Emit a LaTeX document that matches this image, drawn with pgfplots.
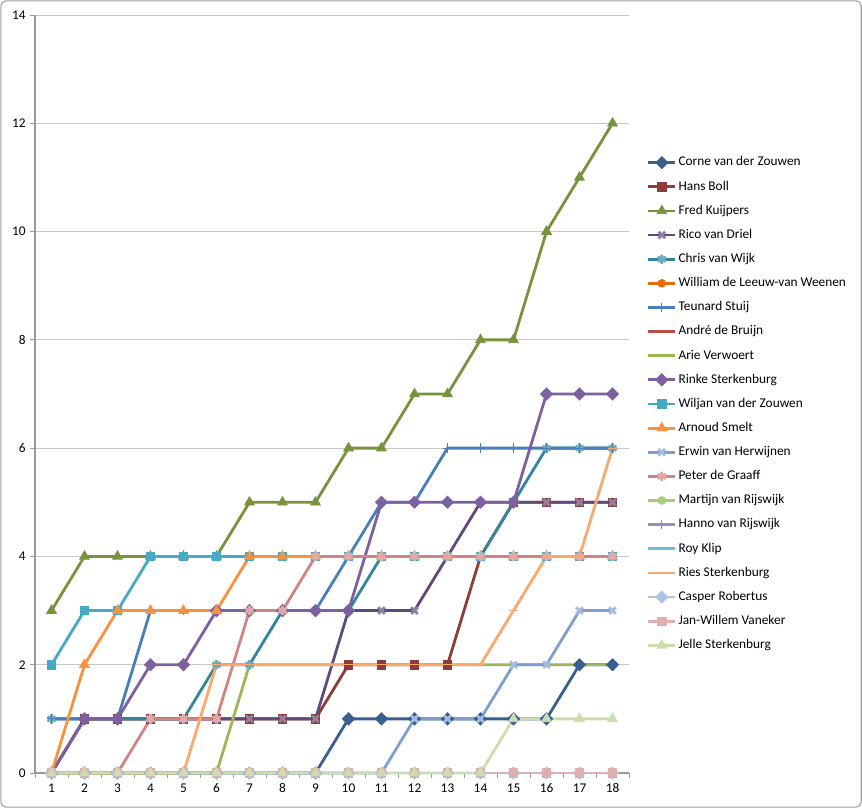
\documentclass[border=0pt]{standalone}
\usepackage{pgfplots}
\pgfplotsset{compat=1.18}
\usepackage{pgfplotstable}
\usepackage{fontspec}
\setmainfont{Carlito}
\definecolor{c1}{HTML}{3A5F8F}
\definecolor{c2}{HTML}{8E3B39}
\definecolor{c3}{HTML}{77933C}
\definecolor{c4}{HTML}{604A7B}
\definecolor{c5}{HTML}{31859C}
\definecolor{c6}{HTML}{E46C0A}
\definecolor{c7}{HTML}{4A7EBB}
\definecolor{c8}{HTML}{BE4B48}
\definecolor{c9}{HTML}{98B954}
\definecolor{c10}{HTML}{7D60A0}
\definecolor{c11}{HTML}{46AAC5}
\definecolor{c12}{HTML}{F69240}
\definecolor{c13}{HTML}{7E9FD2}
\definecolor{c14}{HTML}{D08583}
\definecolor{c15}{HTML}{A9C97B}
\definecolor{c16}{HTML}{9D8CBC}
\definecolor{c17}{HTML}{6FBED3}
\definecolor{c18}{HTML}{F9A96E}
\definecolor{c19}{HTML}{AFC4E2}
\definecolor{c20}{HTML}{DDAFAE}
\definecolor{c21}{HTML}{CCDDB0}
\pgfplotstableread{
x  s1 s2 s3 s4 s5 s6 s7 s8 s9 s10 s11 s12 s13 s14 s15 s16 s17 s18 s19 s20 s21
1  0  0  3  0  1  0  1  0  0  0   2   0   0   0   0   0   0   0   0   0   0
2  0  1  4  1  1  0  1  0  0  1   3   2   0   0   0   0   0   0   0   0   0
3  0  1  4  1  1  0  1  0  0  1   3   3   0   0   0   0   0   0   0   0   0
4  0  1  4  1  1  0  3  0  0  2   4   3   0   1   0   0   0   0   0   0   0
5  0  1  4  1  1  0  3  0  0  2   4   3   0   1   0   0   0   0   0   0   0
6  0  1  4  1  2  0  3  0  0  3   4   3   0   1   0   0   0   2   0   0   0
7  0  1  5  1  2  0  3  0  2  3   4   4   0   3   0   0   0   2   0   0   0
8  0  1  5  1  3  0  3  0  2  3   4   4   0   3   0   0   0   2   0   0   0
9  0  1  5  1  3  0  3  0  2  3   4   4   0   4   0   0   0   2   0   0   0
10 1  2  6  3  3  0  4  0  2  3   4   4   0   4   0   0   0   2   0   0   0
11 1  2  6  3  4  0  5  0  2  5   4   4   0   4   0   0   0   2   0   0   0
12 1  2  7  3  4  0  5  0  2  5   4   4   1   4   0   0   0   2   0   0   0
13 1  2  7  4  4  0  6  0  2  5   4   4   1   4   0   0   0   2   0   0   0
14 1  4  8  5  4  0  6  0  2  5   4   4   1   4   0   0   0   2   0   0   0
15 1  5  8  5  5  0  6  0  2  5   4   4   2   4   0   0   0   3   0   0   1
16 1  5  10 5  6  0  6  0  2  7   4   4   2   4   0   0   0   4   0   0   1
17 2  5  11 5  6  0  6  0  2  7   4   4   3   4   0   0   0   4   0   0   1
18 2  5  12 5  6  0  6  0  2  7   4   4   3   4   0   0   0   6   0   0   1
}\data
\pgfplotsset{
  ser/.style={color=#1, line width=2.1pt, mark options={solid, line width=0.6pt}},
  dia/.style={mark=square*, mark size=2.5pt, mark options={rotate=45}},
}
\begin{document}
\begin{tikzpicture}
\path[use as bounding box] (0,0) rectangle (646.5pt,606pt);
\draw[gray!75, line width=0.8pt, rounded corners=4pt] (0.6pt,0.6pt) rectangle (645.9pt,605.4pt);
\begin{axis}[
  at={(26.25pt,26.25pt)}, anchor=south west,
  scale only axis, width=445.5pt, height=568.5pt,
  xmin=0.5, xmax=18.5, ymin=0, ymax=14,
  xtick={1,...,18}, ytick={0,2,...,14},
  minor xtick={0.5,1.5,...,18.5},
  major x tick style={draw=none},
  tick align=outside, major tick length=3.5pt, minor tick length=3.5pt,
  tick style={gray!80, line width=0.6pt},
  axis lines*=left,
  axis line style={gray!80, line width=0.8pt},
  ymajorgrids, grid style={gray!45, line width=0.6pt},
  ticklabel style={font=\fontsize{10}{12}\selectfont},
  xticklabel style={yshift=-1pt},
  /pgf/number format/assume math mode=true,
  clip=false,
  legend cell align=left,
  legend style={at={(1.03,0.8135)}, anchor=north west, draw=none, fill=none,
    inner sep=0pt, font=\fontsize{10}{12}\selectfont, row sep=9.1pt,
    nodes={inner ysep=0pt, inner xsep=1.5pt, text height=7pt, text depth=2pt}},
  legend image code/.code={\draw[mark repeat=2,mark phase=2,#1] plot coordinates {(0pt,0pt) (10pt,0pt) (20pt,0pt)};},
]
\addplot[ser=c1, dia] table[x=x,y=s1]{\data};
\addlegendentry{Corne van der Zouwen}
\addplot[ser=c2, mark=square*, mark size=3.2pt] table[x=x,y=s2]{\data};
\addlegendentry{Hans Boll}
\addplot[ser=c3, mark=triangle*, mark size=4.2pt] table[x=x,y=s3]{\data};
\addlegendentry{Fred Kuijpers}
\addplot[ser=c4, mark=x, mark size=3.5pt, mark options={color=c4!70!white}] table[x=x,y=s4]{\data};
\addlegendentry{Rico van Driel}
\addplot[ser=c5, mark=asterisk, mark size=3.5pt, mark options={color=c5!70!white}] table[x=x,y=s5]{\data};
\addlegendentry{Chris van Wijk}
\addplot[ser=c6, mark=*, mark size=2.9pt] table[x=x,y=s6]{\data};
\addlegendentry{William de Leeuw-van Weenen}
\addplot[ser=c7, mark=+, mark size=3.5pt] table[x=x,y=s7]{\data};
\addlegendentry{Teunard Stuij}
\addplot[ser=c8, no markers] table[x=x,y=s8]{\data};
\addlegendentry{André de Bruijn}
\addplot[ser=c9, no markers] table[x=x,y=s9]{\data};
\addlegendentry{Arie Verwoert}
\addplot[ser=c10, dia] table[x=x,y=s10]{\data};
\addlegendentry{Rinke Sterkenburg}
\addplot[ser=c11, mark=square*, mark size=3.2pt] table[x=x,y=s11]{\data};
\addlegendentry{Wiljan van der Zouwen}
\addplot[ser=c12, mark=triangle*, mark size=4.2pt] table[x=x,y=s12]{\data};
\addlegendentry{Arnoud Smelt}
\addplot[ser=c13, mark=x, mark size=3.5pt, mark options={color=c13!70!white}] table[x=x,y=s13]{\data};
\addlegendentry{Erwin van Herwijnen}
\addplot[ser=c14, mark=asterisk, mark size=3.5pt, mark options={color=c14!70!white}] table[x=x,y=s14]{\data};
\addlegendentry{Peter de Graaff}
\addplot[ser=c15, mark=*, mark size=2.9pt] table[x=x,y=s15]{\data};
\addlegendentry{Martijn van Rijswijk}
\addplot[ser=c16, mark=+, mark size=3.5pt] table[x=x,y=s16]{\data};
\addlegendentry{Hanno van Rijswijk}
\addplot[ser=c17, no markers] table[x=x,y=s17]{\data};
\addlegendentry{Roy Klip}
\addplot[ser=c18, mark=-, mark size=3.5pt] table[x=x,y=s18]{\data};
\addlegendentry{Ries Sterkenburg}
\addplot[ser=c19, dia] table[x=x,y=s19]{\data};
\addlegendentry{Casper Robertus}
\addplot[ser=c20, mark=square*, mark size=3.2pt] table[x=x,y=s20]{\data};
\addlegendentry{Jan-Willem Vaneker}
\addplot[ser=c21, mark=triangle*, mark size=4.2pt] table[x=x,y=s21]{\data};
\addlegendentry{Jelle Sterkenburg}
\end{axis}
\end{tikzpicture}
\end{document}
